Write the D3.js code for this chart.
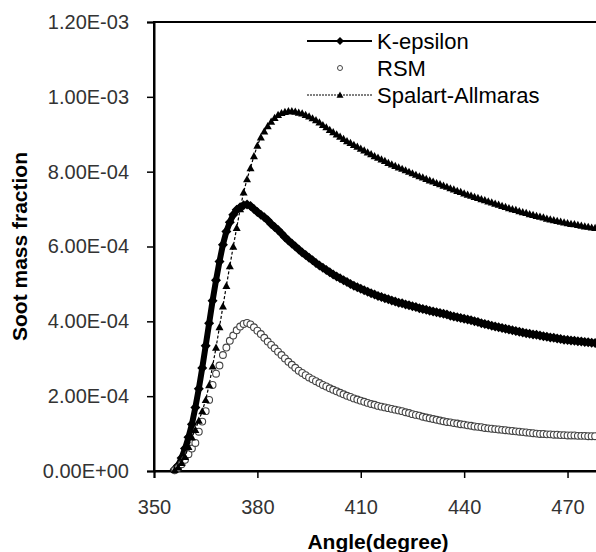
<!DOCTYPE html>
<html>
<head>
<meta charset="utf-8">
<script src="https://cdn.jsdelivr.net/npm/d3@7"></script>
<style>
  body { margin: 0; background: #fff; }
  svg { display: block; font-family: Arial, "Liberation Sans", sans-serif; }
</style>
</head>
<body>
<div id="chart"></div>
<script>
// soot mass fraction, values in units of 1e-4, one value per degree from 356 to 478
const angleStart = 356;
const kEpsilon = [
  0.05,0.15,0.35,0.6,0.9,1.25,1.7,2.2,2.75,3.35,
  3.95,4.55,5.1,5.6,6.05,6.4,6.65,6.85,6.98,7.05,
  7.1,7.12,7.08,7.0,6.92,6.85,6.78,6.7,6.6,6.52,
  6.44,6.35,6.25,6.16,6.08,6.0,5.92,5.84,5.77,5.7,
  5.63,5.56,5.49,5.43,5.37,5.31,5.25,5.2,5.15,5.1,
  5.05,5.0,4.95,4.91,4.87,4.83,4.79,4.75,4.72,4.68,
  4.65,4.62,4.59,4.56,4.53,4.5,4.48,4.45,4.43,4.4,
  4.38,4.35,4.33,4.31,4.28,4.26,4.24,4.22,4.2,4.18,
  4.15,4.13,4.11,4.09,4.07,4.05,4.03,4.0,3.98,3.95,
  3.93,3.91,3.88,3.86,3.84,3.82,3.8,3.78,3.76,3.74,
  3.72,3.7,3.68,3.67,3.65,3.64,3.62,3.6,3.59,3.57,
  3.56,3.54,3.53,3.51,3.5,3.49,3.48,3.47,3.46,3.45,
  3.44,3.43,3.42
];
const rsm = [
  0.02,0.08,0.18,0.3,0.45,0.6,0.75,1.05,1.32,1.6,
  1.9,2.3,2.6,2.82,3.1,3.3,3.48,3.62,3.76,3.86,
  3.93,3.96,3.92,3.84,3.75,3.66,3.56,3.46,3.37,3.28,
  3.19,3.1,3.01,2.92,2.84,2.76,2.68,2.62,2.56,2.5,
  2.45,2.4,2.35,2.3,2.26,2.21,2.17,2.13,2.09,2.05,
  2.01,1.98,1.94,1.91,1.88,1.85,1.82,1.79,1.77,1.74,
  1.72,1.7,1.68,1.66,1.64,1.62,1.6,1.57,1.55,1.52,
  1.5,1.48,1.45,1.43,1.41,1.39,1.37,1.35,1.33,1.31,
  1.3,1.28,1.27,1.25,1.24,1.22,1.21,1.19,1.18,1.17,
  1.15,1.14,1.13,1.12,1.11,1.1,1.09,1.08,1.07,1.06,
  1.05,1.04,1.03,1.02,1.01,1.0,0.99,0.99,0.98,0.98,
  0.97,0.97,0.96,0.96,0.95,0.95,0.95,0.94,0.94,0.94,
  0.93,0.93,0.93
];
const spalart = [
  0.03,0.1,0.22,0.38,0.65,0.9,1.1,1.35,1.6,1.9,
  2.3,2.8,3.3,3.85,4.4,4.95,5.48,6.0,6.5,7.0,
  7.45,7.8,8.1,8.42,8.7,8.92,9.08,9.22,9.34,9.44,
  9.52,9.57,9.6,9.62,9.62,9.61,9.58,9.56,9.52,9.48,
  9.43,9.38,9.32,9.25,9.19,9.12,9.06,9.0,8.94,8.88,
  8.82,8.77,8.72,8.67,8.62,8.57,8.52,8.47,8.42,8.38,
  8.33,8.29,8.24,8.2,8.16,8.12,8.08,8.04,8.0,7.96,
  7.92,7.88,7.85,7.81,7.77,7.74,7.7,7.67,7.63,7.6,
  7.56,7.53,7.49,7.46,7.42,7.39,7.36,7.33,7.3,7.27,
  7.24,7.21,7.18,7.15,7.12,7.09,7.06,7.03,7.0,6.98,
  6.95,6.92,6.9,6.87,6.85,6.82,6.8,6.78,6.75,6.73,
  6.71,6.69,6.67,6.65,6.63,6.61,6.6,6.58,6.56,6.54,
  6.53,6.51,6.5
];
const xTicks = [350, 380, 410, 440, 470];
const yTicks = [0, 2e-4, 4e-4, 6e-4, 8e-4, 1e-3, 1.2e-3];
const seriesNames = ["K-epsilon", "RSM", "Spalart-Allmaras"];

const width = 596, height = 552;
const margin = {top: 22, left: 154, bottom: 81};
const plotRight = 602;

const svg = d3.select('#chart').append('svg')
    .attr('width', width)
    .attr('height', height);

const x = d3.scaleLinear().domain([350, 480]).range([margin.left, plotRight]);
const y = d3.scaleLinear().domain([0, 1.2e-3]).range([height - margin.bottom, margin.top]);

function sci(d) {
  if (d === 0) return '0.00E+00';
  const [m, e] = d.toExponential(2).split('e');
  const n = +e;
  return m + 'E' + (n < 0 ? '-' : '+') + String(Math.abs(n)).padStart(2, '0');
}

// plot frame (top/right edge)
svg.append('rect')
    .attr('x', x(350)).attr('y', y(1.2e-3))
    .attr('width', x(480) - x(350)).attr('height', y(0) - y(1.2e-3))
    .attr('fill', 'none').attr('stroke', '#000').attr('stroke-width', 2);

// axes
const yAxis = svg.append('g')
    .attr('transform', 'translate(' + x(350) + ',0)')
    .call(d3.axisLeft(y).tickValues(yTicks).tickFormat(sci).tickSize(7).tickPadding(18));
const xAxis = svg.append('g')
    .attr('transform', 'translate(0,' + y(0) + ')')
    .call(d3.axisBottom(x).tickValues(xTicks).tickFormat(d3.format('d')).tickSize(7).tickPadding(22));
[yAxis, xAxis].forEach(g => {
  g.select('.domain').attr('stroke', '#000').attr('stroke-width', 2);
  g.selectAll('.tick line').attr('stroke', '#000').attr('stroke-width', 1.5);
  g.selectAll('.tick text').attr('fill', '#333').style('font-size', '20px')
      .style('font-family', 'Arial, "Liberation Sans", sans-serif');
});

// axis titles
svg.append('text')
    .attr('x', (x(350) + x(480)) / 2).attr('y', 549)
    .attr('text-anchor', 'middle')
    .style('font-size', '21px').style('font-weight', 'bold')
    .text('Angle(degree)');
svg.append('text')
    .attr('transform', 'translate(27,' + ((y(0) + y(1.2e-3)) / 2) + ') rotate(-90)')
    .attr('text-anchor', 'middle')
    .style('font-size', '21px').style('font-weight', 'bold')
    .text('Soot mass fraction');

const toPoints = arr => arr.map((v, i) => ({a: angleStart + i, v: v * 1e-4}));
const line = d3.line().x(d => x(d.a)).y(d => y(d.v));

const diamond = r => 'M0,' + (-r) + 'L' + r + ',0L0,' + r + 'L' + (-r) + ',0Z';
const triangle = r => 'M0,' + (-r) + 'L' + r + ',' + (r * 0.8) + 'L' + (-r) + ',' + (r * 0.8) + 'Z';

const plot = svg.append('g');

// K-epsilon: dense diamonds make a solid band
const kData = toPoints(kEpsilon);
plot.append('path').datum(kData)
    .attr('d', line).attr('fill', 'none').attr('stroke', '#000')
    .attr('stroke-width', 6).attr('stroke-linejoin', 'round');
plot.selectAll('.kmark').data(kData).enter().append('path')
    .attr('class', 'kmark')
    .attr('d', diamond(5))
    .attr('transform', d => 'translate(' + x(d.a) + ',' + y(d.v) + ')')
    .attr('fill', '#000');

// RSM
const rData = toPoints(rsm);
plot.selectAll('.rmark').data(rData).enter().append('circle')
    .attr('class', 'rmark')
    .attr('cx', d => x(d.a)).attr('cy', d => y(d.v)).attr('r', 3.4)
    .attr('fill', '#fff').attr('stroke', '#444').attr('stroke-width', 1.1);

// Spalart-Allmaras
const sData = toPoints(spalart);
plot.append('path').datum(sData)
    .attr('d', line).attr('fill', 'none').attr('stroke', '#000')
    .attr('stroke-width', 1.2).attr('stroke-dasharray', '3,2');
plot.selectAll('.smark').data(sData).enter().append('path')
    .attr('class', 'smark')
    .attr('d', triangle(4))
    .attr('transform', d => 'translate(' + x(d.a) + ',' + y(d.v) + ')')
    .attr('fill', '#000');

// legend
const legend = svg.append('g');
const legY = [41, 68, 95];
legend.append('line').attr('x1', 307).attr('x2', 372).attr('y1', legY[0]).attr('y2', legY[0])
    .attr('stroke', '#000').attr('stroke-width', 2);
legend.append('path').attr('d', diamond(4)).attr('transform', 'translate(340,' + legY[0] + ')');
legend.append('circle').attr('cx', 340).attr('cy', legY[1]).attr('r', 2.5)
    .attr('fill', '#fff').attr('stroke', '#444');
legend.append('line').attr('x1', 307).attr('x2', 372).attr('y1', legY[2]).attr('y2', legY[2])
    .attr('stroke', '#000').attr('stroke-width', 1).attr('stroke-dasharray', '2,1');
legend.append('path').attr('d', triangle(3.5)).attr('transform', 'translate(340,' + legY[2] + ')');
legend.selectAll('text').data(seriesNames).enter().append('text')
    .attr('x', 377).attr('y', (d, i) => legY[i] + 8)
    .style('font-size', '22px')
    .text(d => d);
</script>
</body>
</html>
